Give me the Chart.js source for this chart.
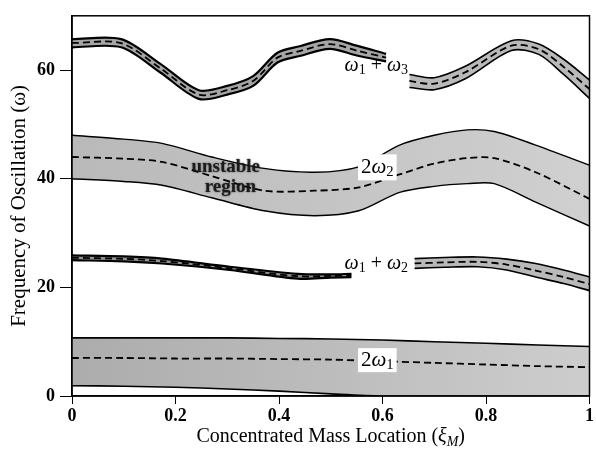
<!DOCTYPE html>
<html>
<head>
<meta charset="utf-8">
<script src="https://cdn.jsdelivr.net/npm/chart.js@4.4.0/dist/chart.umd.min.js"></script>
<style>
html, body { margin: 0; padding: 0; background: #fff; }
#wrap { width: 596px; height: 459px; }
</style>
</head>
<body>
<div id="wrap"><canvas id="c"></canvas></div>
<script>
// tick labels
const xTickLabels = ['0', '0.2', '0.4', '0.6', '0.8', '1'];
const yTickLabels = ['0', '20', '40', '60'];

// omega1 + omega3, left piece
const w13aX   = [0, 0.095, 0.17, 0.245, 0.30, 0.35, 0.397, 0.44, 0.498, 0.55, 0.607];
const w13aHi  = [65.7, 65.7, 61.2, 56.3, 57.1, 58.9, 63.2, 64.4, 65.7, 64.5, 63.0];
const w13aMid = [65.0, 64.95, 60.4, 55.5, 56.3, 58.0, 62.3, 63.5, 64.8, 63.6, 62.3];
const w13aLo  = [64.2, 64.2, 59.6, 54.7, 55.5, 57.1, 61.4, 62.6, 63.9, 62.7, 61.6];
// omega1 + omega3, right piece
const w13bX   = [0.652, 0.70, 0.76, 0.849, 0.902, 0.95, 1.0];
const w13bHi  = [59.2, 58.6, 60.7, 65.4, 64.8, 62.0, 58.2];
const w13bMid = [58.0, 57.5, 59.6, 64.5, 63.85, 60.6, 56.5];
const w13bLo  = [56.8, 56.4, 58.4, 63.6, 62.9, 59.2, 54.8];

// 2 omega2
const w22X   = [0, 0.1, 0.174, 0.27, 0.371, 0.469, 0.554, 0.633, 0.70, 0.764, 0.816, 0.896, 1.0];
const w22Hi  = [48.0, 47.3, 46.5, 44.0, 41.9, 41.2, 42.2, 46.2, 48.0, 49.0, 48.7, 46.2, 42.5];
const w22Mid = [44.0, 43.7, 43.1, 40.5, 37.8, 37.8, 38.4, 40.8, 42.8, 43.8, 43.8, 41.2, 36.3];
const w22Lo  = [40.0, 39.5, 38.8, 36.5, 34.1, 33.2, 34.1, 37.5, 38.6, 39.1, 39.1, 35.7, 31.3];

// omega1 + omega2, left piece
const w12aX   = [0, 0.1, 0.174, 0.305, 0.436, 0.50, 0.54];
const w12aHi  = [25.9, 25.7, 25.3, 23.8, 22.5, 22.4, 22.5];
const w12aMid = [25.45, 25.25, 24.85, 23.5, 22.05, 22.1, 22.2];
const w12aLo  = [25.0, 24.8, 24.4, 23.2, 21.6, 21.8, 21.9];
// omega1 + omega2, right piece
const w12bX   = [0.662, 0.72, 0.784, 0.84, 0.896, 0.95, 1.0];
const w12bHi  = [25.3, 25.5, 25.6, 25.2, 24.4, 23.2, 21.9];
const w12bMid = [24.4, 24.6, 24.7, 24.2, 23.1, 21.9, 20.6];
const w12bLo  = [23.5, 23.7, 23.8, 23.2, 21.9, 20.7, 19.4];

// 2 omega1
const w21X   = [0, 0.1, 0.2, 0.3, 0.4, 0.5, 0.6, 0.7, 0.8, 0.9, 1.0];
const w21Hi  = [10.7, 10.7, 10.7, 10.7, 10.6, 10.5, 10.3, 10.0, 9.7, 9.4, 9.1];
const w21Mid = [7.0, 7.0, 6.9, 6.9, 6.8, 6.7, 6.4, 6.1, 5.8, 5.5, 5.3];
const w21Lo  = [1.9, 1.8, 1.6, 1.3, 0.9, 0.4, 0, 0, 0, 0, 0];

const SERIF = '"Liberation Serif", "DejaVu Serif", serif';

function pts(xs, ys) {
    return xs.map(function (x, i) { return { x: x, y: ys[i] }; });
}

// grey that gets a bit lighter to the right, like the scanned shading
function shade(dark, light) {
    return function (c) {
        var a = c.chart.chartArea;
        if (!a) return dark;
        var g = c.chart.ctx.createLinearGradient(a.left, 0, a.right, 0);
        g.addColorStop(0, dark);
        g.addColorStop(1, light);
        return g;
    };
}

var datasets = [];
// mid first so it is drawn on top of the fill
function band(xs, lo, hi, mid, fillColor, edge) {
    var base = datasets.length;
    var line = { showLine: true, pointRadius: 0, tension: 0.3, borderColor: '#000' };
    datasets.push(Object.assign({}, line, { data: pts(xs, mid), borderWidth: 1.8, borderDash: [7, 4], fill: false }));
    datasets.push(Object.assign({}, line, { data: pts(xs, lo), borderWidth: edge, fill: false }));
    datasets.push(Object.assign({}, line, { data: pts(xs, hi), borderWidth: edge, fill: { target: base + 1 }, backgroundColor: fillColor }));
}

band(w21X, w21Lo, w21Hi, w21Mid, shade('rgb(172,172,172)', 'rgb(205,205,205)'), 1.6);
band(w12aX, w12aLo, w12aHi, w12aMid, 'rgb(150,150,150)', 2.2);
band(w12bX, w12bLo, w12bHi, w12bMid, 'rgb(185,185,185)', 1.6);
band(w22X, w22Lo, w22Hi, w22Mid, shade('rgb(185,185,185)', 'rgb(208,208,208)'), 1.4);
band(w13aX, w13aLo, w13aHi, w13aMid, 'rgb(165,165,165)', 2.2);
band(w13bX, w13bLo, w13bHi, w13bMid, 'rgb(185,185,185)', 1.6);

// draws text made of pieces, some italic, some subscripts
function mathText(ctx, parts, cx, cy, size, box) {
    var w = 0;
    parts.forEach(function (p) {
        ctx.font = (p.it ? 'italic ' : '') + (p.sub ? size * 0.7 : size) + 'px ' + SERIF;
        p.w = ctx.measureText(p.t).width;
        w += p.w;
    });
    var x = cx - w / 2;
    if (box) {
        ctx.fillStyle = '#fff';
        ctx.fillRect(x - box[0], cy - box[1], w + 2 * box[0], 2 * box[1]);
    }
    ctx.fillStyle = '#000';
    ctx.textBaseline = 'middle';
    ctx.textAlign = 'left';
    parts.forEach(function (p) {
        ctx.font = (p.it ? 'italic ' : '') + (p.sub ? size * 0.7 : size) + 'px ' + SERIF;
        ctx.fillText(p.t, x, p.sub ? cy + size * 0.25 : cy);
        x += p.w;
    });
}

const decor = {
    id: 'decor',
    afterDatasetsDraw: function (chart) {
        var ctx = chart.ctx, a = chart.chartArea, sx = chart.scales.x, sy = chart.scales.y;
        ctx.save();
        ctx.strokeStyle = '#000';
        ctx.lineWidth = 1.5;
        ctx.strokeRect(a.left, a.top, a.right - a.left, a.bottom - a.top);

        mathText(ctx, [{ t: 'ω', it: 1 }, { t: '1', sub: 1 }, { t: ' + ' }, { t: 'ω', it: 1 }, { t: '3', sub: 1 }],
            sx.getPixelForValue(0.588), sy.getPixelForValue(60.8), 20);
        mathText(ctx, [{ t: '2' }, { t: 'ω', it: 1 }, { t: '2', sub: 1 }],
            sx.getPixelForValue(0.59), sy.getPixelForValue(42.1), 21, [3, 13]);
        mathText(ctx, [{ t: 'ω', it: 1 }, { t: '1', sub: 1 }, { t: ' + ' }, { t: 'ω', it: 1 }, { t: '2', sub: 1 }],
            sx.getPixelForValue(0.588), sy.getPixelForValue(24.4), 20);
        mathText(ctx, [{ t: '2' }, { t: 'ω', it: 1 }, { t: '1', sub: 1 }],
            sx.getPixelForValue(0.59), sy.getPixelForValue(6.6), 21, [3, 12]);

        ctx.fillStyle = 'rgba(20,20,20,0.9)';
        ctx.shadowColor = 'rgba(0,0,0,0.7)';
        ctx.shadowBlur = 2;
        ctx.font = 'bold 19px ' + SERIF;
        ctx.textAlign = 'center';
        ctx.textBaseline = 'middle';
        ctx.fillText('unstable', sx.getPixelForValue(0.297), sy.getPixelForValue(42.1));
        ctx.fillText('region', sx.getPixelForValue(0.306), sy.getPixelForValue(38.4));
        ctx.shadowBlur = 0;

        // x axis title with subscript
        mathText(ctx, [{ t: 'Concentrated Mass Location (' }, { t: 'ξ', it: 1 }, { t: 'M', it: 1, sub: 1 }, { t: ')' }],
            (a.left + a.right) / 2, 437, 20);
        ctx.restore();
    }
};

new Chart(document.getElementById('c'), {
    type: 'scatter',
    data: { datasets: datasets },
    plugins: [decor],
    options: {
        responsive: true,
        maintainAspectRatio: false,
        animation: false,
        layout: { padding: { top: 8, right: 2, left: 0, bottom: 0 } },
        plugins: { legend: { display: false }, tooltip: { enabled: false } },
        scales: {
            x: {
                type: 'linear', min: 0, max: 1,
                afterFit: function (s) { s.height = 63; },
                afterBuildTicks: function (s) { s.ticks = xTickLabels.map(function (t) { return { value: parseFloat(t) }; }); },
                grid: { drawOnChartArea: false, drawTicks: true, tickLength: 8, color: '#000' },
                border: { color: '#000', width: 1.5 },
                ticks: {
                    padding: 2, color: '#000', maxRotation: 0,
                    font: { family: SERIF, size: 18, weight: 'bold' },
                    callback: function (v, i) { return xTickLabels[i]; }
                }
            },
            y: {
                type: 'linear', min: 0, max: 70,
                afterFit: function (s) { s.width = 72; },
                afterBuildTicks: function (s) { s.ticks = yTickLabels.map(function (t) { return { value: parseFloat(t) }; }); },
                grid: { drawOnChartArea: false, drawTicks: true, tickLength: 12, color: '#000' },
                border: { color: '#000', width: 1.5 },
                ticks: {
                    padding: 5, color: '#000',
                    font: { family: SERIF, size: 18, weight: 'bold' },
                    callback: function (v, i) { return yTickLabels[i]; }
                },
                title: {
                    display: true, text: 'Frequency of Oscillation (ω)', color: '#000',
                    font: { family: SERIF, size: 21 }, padding: { top: 7, bottom: 0 }
                }
            }
        }
    }
});
</script>
</body>
</html>
